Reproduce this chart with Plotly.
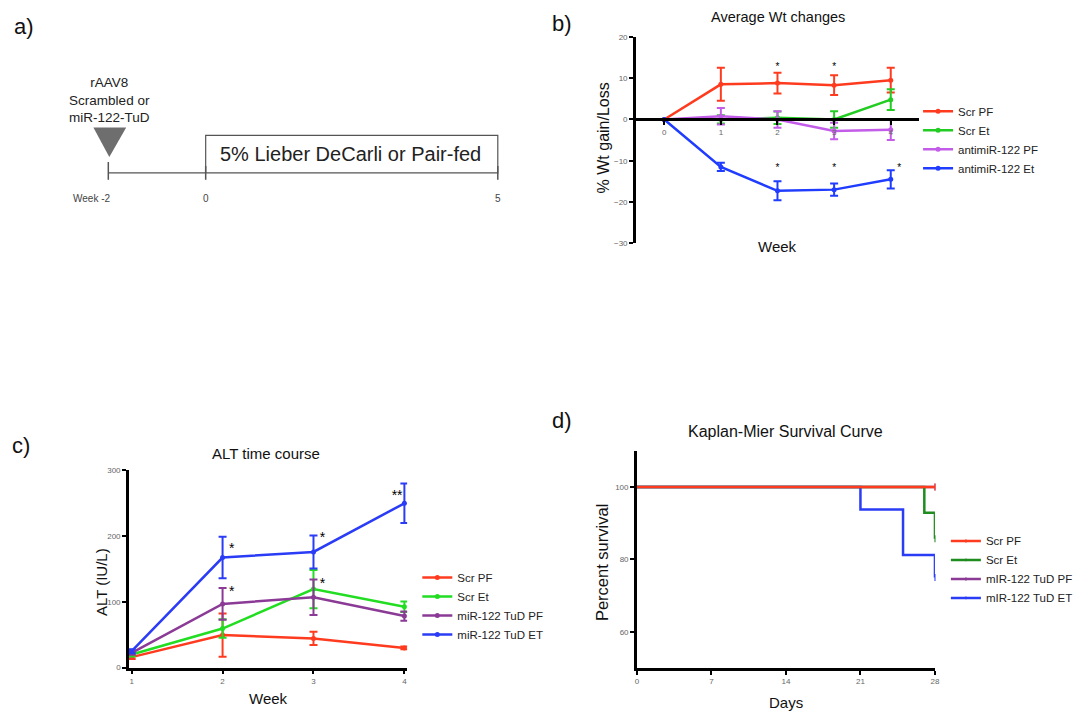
import plotly.graph_objects as go

W, H = 1089, 724
FONT = "Liberation Sans, Arial, sans-serif"

def px(x):
    return x / W

def py(y):
    return 1 - y / H

# ---------------- data: panel b (Average Wt changes) ----------------
b_weeks = [0, 1, 2, 3, 4]
b_names = ["Scr PF", "Scr Et", "antimiR-122 PF", "antimiR-122 Et"]
b_scr_pf = [0, 8.5, 8.8, 8.3, 9.5]
b_scr_pf_err = [0, 4.0, 2.5, 2.4, 3.0]
b_scr_et = [0, 0.0, 0.4, 0.0, 4.8]
b_scr_et_err = [0, 1.0, 1.5, 2.0, 2.5]
b_anti_pf = [0, 0.8, 0.0, -2.8, -2.5]
b_anti_pf_err = [0, 2.0, 2.0, 2.0, 2.5]
b_anti_et = [0, -11.5, -17.3, -17.0, -14.5]
b_anti_et_err = [0, 1.0, 2.3, 1.5, 2.2]
b_star_x = [2, 3, 2, 3, 4.15]
b_star_y = [12.5, 12.5, -12.0, -12.0, -12.0]

# ---------------- data: panel c (ALT time course) ----------------
c_weeks = [1, 2, 3, 4]
c_names = ["Scr PF", "Scr Et", "miR-122 TuD PF", "miR-122 TuD ET"]
c_scr_pf = [16, 49.5, 44.5, 30]
c_scr_pf_err = [3, 33, 10, 2]
c_scr_et = [20, 59.5, 119.5, 92.5]
c_scr_et_err = [3, 14, 29, 8]
c_tud_pf = [22.5, 97, 107, 78.5]
c_tud_pf_err = [3, 24, 27, 7]
c_tud_et = [25, 167.5, 176, 250]
c_tud_et_err = [3, 31.5, 25, 30]
c_star_x = [2.1, 2.1, 3.1, 3.1, 3.92, 4.15]
c_star_y = [180, 115, 196, 126, 260, 85]
c_star_t = ["*", "*", "*", "*", "**", "*"]

# ---------------- data: panel d (Kaplan-Meier) ----------------
d_names = ["Scr PF", "Scr Et", "mIR-122 TuD PF", "mIR-122 TuD ET"]
d_scr_pf_x = [0, 28]
d_scr_pf_y = [100, 100]
d_scr_et_x = [0, 27, 28]
d_scr_et_y = [100, 92.9, 85.7]
d_tud_pf_x = [0, 28]
d_tud_pf_y = [100, 100]
d_tud_et_x = [0, 21, 25, 28]
d_tud_et_y = [100, 93.75, 81.25, 75]

# ---------------- data: panel a (schematic) ----------------
a_tick_labels = ["Week -2", "0", "5"]
a_box_text = "5% Lieber DeCarli or Pair-fed"
a_inject_text = "rAAV8<br>Scrambled or<br>miR-122-TuD"

fig = go.Figure()

RED = "#ff3b1f"

# ---- panel b traces ----
b_cols = [RED, "#22cc22", "#c35ce8", "#1f3cff"]
for name, y, e, col in zip(b_names,
                           [b_scr_pf, b_scr_et, b_anti_pf, b_anti_et],
                           [b_scr_pf_err, b_scr_et_err, b_anti_pf_err, b_anti_et_err],
                           b_cols):
    fig.add_trace(go.Scatter(
        x=b_weeks, y=y, name=name, mode="lines+markers",
        line=dict(color=col, width=2.5), marker=dict(color=col, size=5),
        error_y=dict(type="data", array=e, color=col, thickness=2, width=4),
        xaxis="x2", yaxis="y2", legend="legend", cliponaxis=False))
fig.add_trace(go.Scatter(x=b_star_x, y=b_star_y, mode="text", text=["*"] * len(b_star_x),
                         textfont=dict(size=10, color="black", family=FONT),
                         xaxis="x2", yaxis="y2", showlegend=False, cliponaxis=False))

# ---- panel c traces ----
c_cols = [RED, "#22dd22", "#8b3a96", "#2a3cf5"]
for name, y, e, col in zip(c_names,
                           [c_scr_pf, c_scr_et, c_tud_pf, c_tud_et],
                           [c_scr_pf_err, c_scr_et_err, c_tud_pf_err, c_tud_et_err],
                           c_cols):
    fig.add_trace(go.Scatter(
        x=c_weeks, y=y, name=name, mode="lines+markers",
        line=dict(color=col, width=2.5), marker=dict(color=col, size=5),
        error_y=dict(type="data", array=e, color=col, thickness=2, width=4),
        xaxis="x3", yaxis="y3", legend="legend2", cliponaxis=False))
fig.add_trace(go.Scatter(x=c_star_x, y=c_star_y, mode="text", text=c_star_t,
                         textfont=dict(size=14, color="black", family=FONT),
                         xaxis="x3", yaxis="y3", showlegend=False, cliponaxis=False))

# ---- panel d traces (draw order: purple, blue, green, red) ----
d_cols = [RED, "#1e8c1e", "#8b3a96", "#2a3cf5"]
d_data = [(d_scr_pf_x, d_scr_pf_y), (d_scr_et_x, d_scr_et_y),
          (d_tud_pf_x, d_tud_pf_y), (d_tud_et_x, d_tud_et_y)]
for idx in [2, 3, 1, 0]:
    xs, ys = d_data[idx]
    sizes = [0] * (len(xs) - 1) + [5]
    fig.add_trace(go.Scatter(
        x=xs, y=ys, name=d_names[idx], mode="lines+markers", line_shape="hv",
        line=dict(color=d_cols[idx], width=2.5),
        marker=dict(symbol="line-ns", size=sizes, line=dict(color=d_cols[idx], width=1.5)),
        xaxis="x4", yaxis="y4", legend="legend3", legendrank=idx + 1, cliponaxis=False))

tickfont = dict(size=8, color="#666", family=FONT)
axcommon = dict(showline=True, linecolor="black", linewidth=2.5, ticks="outside",
                ticklen=4, tickwidth=1.5, tickcolor="black", showgrid=False,
                zeroline=False, tickfont=tickfont)

# panel b axes
b_dom_y = [py(242.3), py(33.3)]
b_xpos = b_dom_y[0] + (0 - (-30)) / 50 * (b_dom_y[1] - b_dom_y[0])
c_pxw = (405 - 130.5) / 3.0
fig.update_layout(
    xaxis=dict(domain=[0, 0.01], visible=False),
    yaxis=dict(domain=[0.99, 1], visible=False),
    xaxis2=dict(domain=[px(638), px(923)], range=[-0.5, 4.5], anchor="free",
                position=b_xpos, tickvals=b_weeks, **axcommon),
    yaxis2=dict(domain=b_dom_y, range=[-30, 20], anchor="x2",
                tickvals=[-30, -20, -10, 0, 10, 20], **axcommon),
    xaxis3=dict(domain=[px(130.5 - 0.03 * c_pxw), px(405 + 0.03 * c_pxw)], range=[0.97, 4.03],
                anchor="y3", tickvals=c_weeks, **axcommon),
    yaxis3=dict(domain=[py(672), py(472.3)], range=[0, 300], anchor="x3",
                tickvals=[0, 100, 200, 300], **axcommon),
    xaxis4=dict(domain=[px(639), px(939)], range=[0, 28], anchor="y4",
                tickvals=[0, 7, 14, 21, 28], **axcommon),
    yaxis4=dict(domain=[py(672.5), py(452.3)], range=[50, 110], anchor="x4",
                tickvals=[60, 80, 100], **axcommon),
)

legfont = dict(size=11.5, color="#222", family=FONT)
fig.update_layout(
    legend=dict(x=px(922), y=py(94), xanchor="left", yanchor="top", font=legfont,
                bgcolor="rgba(0,0,0,0)", itemwidth=30, tracegroupgap=0),
    legend2=dict(x=px(418), y=py(566), xanchor="left", yanchor="top", font=legfont,
                 bgcolor="rgba(0,0,0,0)", itemwidth=30),
    legend3=dict(x=px(950), y=py(529), xanchor="left", yanchor="top", font=legfont,
                 bgcolor="rgba(0,0,0,0)", itemwidth=30),
)

annotations = []
def ann(x, y, text, size, **kw):
    d = dict(x=px(x), y=py(y), xref="paper", yref="paper", text=text, showarrow=False,
             font=dict(size=size, color=kw.pop("color", "#111"), family=FONT),
             xanchor=kw.pop("xanchor", "center"), yanchor=kw.pop("yanchor", "middle"))
    d.update(kw)
    annotations.append(d)

# panel labels
ann(10, 23, "a)", 22, xanchor="left")
ann(552, 20, "b)", 22, xanchor="left")
ann(8, 447, "c)", 22, xanchor="left")
ann(552, 422, "d)", 22, xanchor="left")

# titles
ann(781, 13, "Average Wt changes", 14.5)
ann(781, 246, "Week", 15)
ann(605, 136, "% Wt gain/Loss", 16, textangle=-90)
ann(266, 455, "ALT time course", 15)
ann(268, 703, "Week", 15)
ann(100, 585, "ALT (IU/L)", 15, textangle=-90)
ann(789, 433, "Kaplan-Mier Survival Curve", 16)
ann(789, 707, "Days", 15)
ann(604, 566, "Percent survival", 16.5, textangle=-90)

# panel a schematic text
ann(108, 97, a_inject_text, 13.5, color="#222")
ann(351, 152, a_box_text, 20, color="#222")
for lbl, xx in zip(a_tick_labels, [90, 205, 499]):
    ann(xx, 197, lbl, 10, color="#444")

fig.update_layout(annotations=annotations)

shapes = []
def pline(x0, y0, x1, y1, w=1.2, c="#555"):
    shapes.append(dict(type="line", xref="paper", yref="paper",
                       x0=px(x0), y0=py(y0), x1=px(x1), y1=py(y1),
                       line=dict(color=c, width=w)))

pline(107, 171, 205, 171)
pline(107, 160, 107, 178, w=1.5)
pline(205, 164, 205, 178, w=1.5)
pline(499, 164, 499, 178, w=1.5)
shapes.append(dict(type="rect", xref="paper", yref="paper",
                   x0=px(205), y0=py(171), x1=px(499), y1=py(133),
                   line=dict(color="#555", width=1.2), fillcolor="rgba(0,0,0,0)"))
shapes.append(dict(type="path", xref="paper", yref="paper",
                   path=f"M {px(92)} {py(125)} L {px(125)} {py(125)} L {px(108)} {py(155)} Z",
                   fillcolor="#6e6e6e", line=dict(width=0)))
fig.update_layout(shapes=shapes)

fig.update_layout(width=W, height=H, margin=dict(l=0, r=0, t=0, b=0),
                  plot_bgcolor="white", paper_bgcolor="white",
                  font=dict(family=FONT))

fig.write_html("out.html")
